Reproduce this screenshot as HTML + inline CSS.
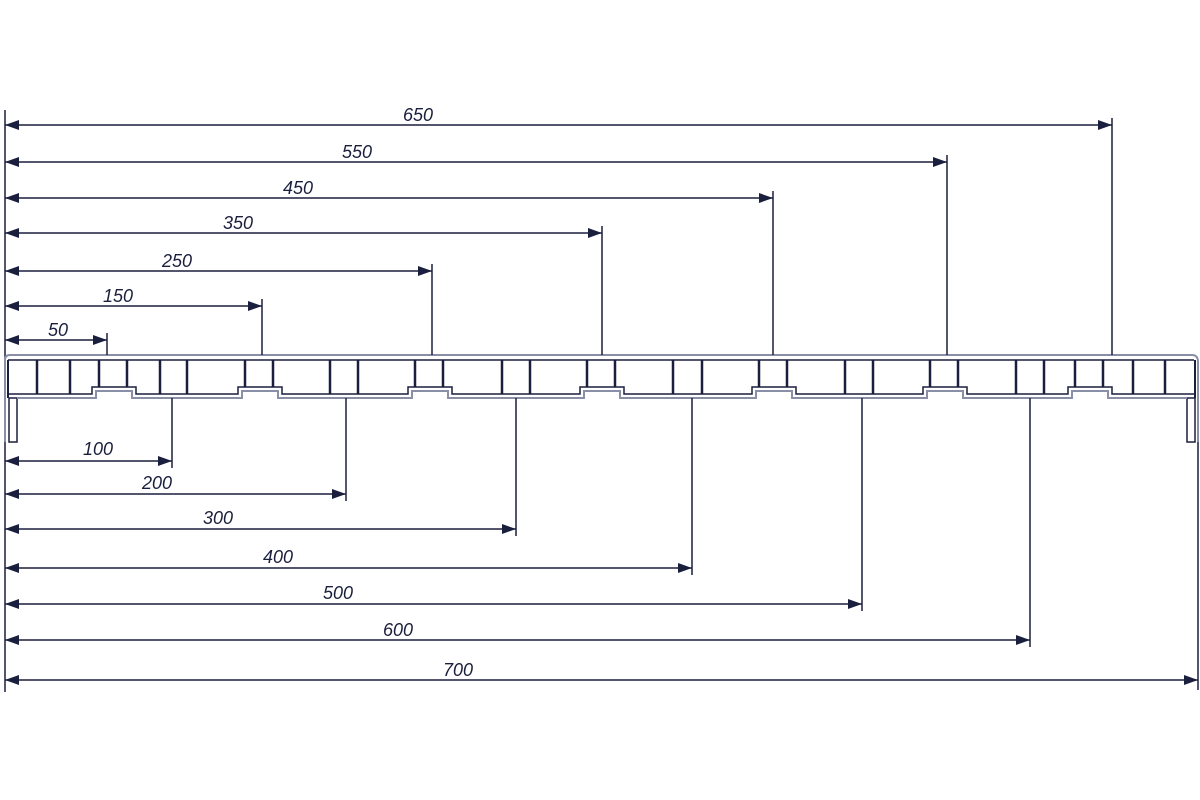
<!DOCTYPE html>
<html><head><style>body{margin:0;background:#fff}svg{display:block}</style></head><body>
<svg width="1200" height="800" xmlns="http://www.w3.org/2000/svg" font-family="Liberation Sans, sans-serif" font-style="italic" font-size="18" fill="#1a1f3d">
<defs>
<marker id="a" viewBox="0 0 14 10" refX="14" refY="5" markerWidth="14" markerHeight="10" orient="auto-start-reverse" markerUnits="userSpaceOnUse"><path d="M0,0L14,5L0,10z" fill="#1a1f3d"/></marker>
</defs>
<g stroke="#1a1f3d" stroke-width="1.5" fill="none">
<line x1="5" y1="110" x2="5" y2="692"/>
<line x1="1198" y1="440" x2="1198" y2="690"/>
<path d="M5,442 V360 Q5,355 10,355 H1192 Q1198,355 1198,362 V442" stroke="#8a8fa8" stroke-width="2"/>
<line x1="8" y1="360" x2="1194" y2="360" stroke="#1a1f3d" stroke-width="1.5"/>
<rect x="9" y="398" width="8" height="44" stroke="#1a1f3d" stroke-width="1.5"/>
<rect x="1187" y="398" width="8" height="44" stroke="#1a1f3d" stroke-width="1.5"/>
<line x1="8" y1="360" x2="8" y2="398" stroke-width="2"/>
<line x1="1195" y1="360" x2="1195" y2="398" stroke-width="2"/>
</g>
<g stroke="#1a1f3d" stroke-width="2.5">
<line x1="37" y1="360" x2="37" y2="394"/><line x1="70" y1="360" x2="70" y2="394"/>
<line x1="99" y1="360" x2="99" y2="387"/><line x1="127" y1="360" x2="127" y2="387"/>
<line x1="160" y1="360" x2="160" y2="394"/><line x1="187" y1="360" x2="187" y2="394"/>
<line x1="245" y1="360" x2="245" y2="387"/><line x1="273" y1="360" x2="273" y2="387"/>
<line x1="330" y1="360" x2="330" y2="394"/><line x1="358" y1="360" x2="358" y2="394"/>
<line x1="415" y1="360" x2="415" y2="387"/><line x1="443" y1="360" x2="443" y2="387"/>
<line x1="502" y1="360" x2="502" y2="394"/><line x1="530" y1="360" x2="530" y2="394"/>
<line x1="587" y1="360" x2="587" y2="387"/><line x1="615" y1="360" x2="615" y2="387"/>
<line x1="673" y1="360" x2="673" y2="394"/><line x1="702" y1="360" x2="702" y2="394"/>
<line x1="759" y1="360" x2="759" y2="387"/><line x1="787" y1="360" x2="787" y2="387"/>
<line x1="845" y1="360" x2="845" y2="394"/><line x1="873" y1="360" x2="873" y2="394"/>
<line x1="930" y1="360" x2="930" y2="387"/><line x1="958" y1="360" x2="958" y2="387"/>
<line x1="1016" y1="360" x2="1016" y2="394"/><line x1="1044" y1="360" x2="1044" y2="394"/>
<line x1="1075" y1="360" x2="1075" y2="387"/><line x1="1103" y1="360" x2="1103" y2="387"/>
<line x1="1133" y1="360" x2="1133" y2="394"/><line x1="1165" y1="360" x2="1165" y2="394"/>
</g>
<g stroke="#1a1f3d" stroke-width="1.5" fill="none">
<path d="M8,394 H92 V387 H136 V394 H238 V387 H282 V394 H408 V387 H452 V394 H580 V387 H624 V394 H752 V387 H796 V394 H923 V387 H967 V394 H1068 V387 H1112 V394 H1195"/>
<path d="M17,398 H96 V391 H132 V398 H242 V391 H278 V398 H412 V391 H448 V398 H584 V391 H620 V398 H756 V391 H792 V398 H927 V391 H963 V398 H1072 V391 H1108 V398 H1187" stroke="#8a8fa8" stroke-width="2"/>
</g>
<g stroke="#1a1f3d" stroke-width="1.5" marker-start="url(#a)" marker-end="url(#a)">
<line x1="5" y1="125" x2="1112" y2="125"/>
<line x1="5" y1="162" x2="947" y2="162"/>
<line x1="5" y1="198" x2="773" y2="198"/>
<line x1="5" y1="233" x2="602" y2="233"/>
<line x1="5" y1="271" x2="432" y2="271"/>
<line x1="5" y1="306" x2="262" y2="306"/>
<line x1="5" y1="340" x2="107" y2="340"/>
<line x1="5" y1="461" x2="172" y2="461"/>
<line x1="5" y1="494" x2="346" y2="494"/>
<line x1="5" y1="529" x2="516" y2="529"/>
<line x1="5" y1="568" x2="692" y2="568"/>
<line x1="5" y1="604" x2="862" y2="604"/>
<line x1="5" y1="640" x2="1030" y2="640"/>
<line x1="5" y1="680" x2="1198" y2="680"/>
</g>
<g stroke="#1a1f3d" stroke-width="1.5">
<line x1="1112" y1="118" x2="1112" y2="355"/>
<line x1="947" y1="155" x2="947" y2="355"/>
<line x1="773" y1="191" x2="773" y2="355"/>
<line x1="602" y1="226" x2="602" y2="355"/>
<line x1="432" y1="264" x2="432" y2="355"/>
<line x1="262" y1="299" x2="262" y2="355"/>
<line x1="107" y1="333" x2="107" y2="355"/>
<line x1="172" y1="398" x2="172" y2="468"/>
<line x1="346" y1="398" x2="346" y2="501"/>
<line x1="516" y1="398" x2="516" y2="536"/>
<line x1="692" y1="398" x2="692" y2="575"/>
<line x1="862" y1="398" x2="862" y2="611"/>
<line x1="1030" y1="398" x2="1030" y2="647"/>
</g>
<g text-anchor="middle">
<text x="418" y="121">650</text><text x="357" y="158">550</text><text x="298" y="194">450</text>
<text x="238" y="229">350</text><text x="177" y="267">250</text><text x="118" y="302">150</text>
<text x="58" y="336">50</text>
<text x="98" y="455">100</text><text x="157" y="489">200</text><text x="218" y="524">300</text>
<text x="278" y="563">400</text><text x="338" y="599">500</text><text x="398" y="636">600</text>
<text x="458" y="676">700</text>
</g>
</svg>
</body></html>
